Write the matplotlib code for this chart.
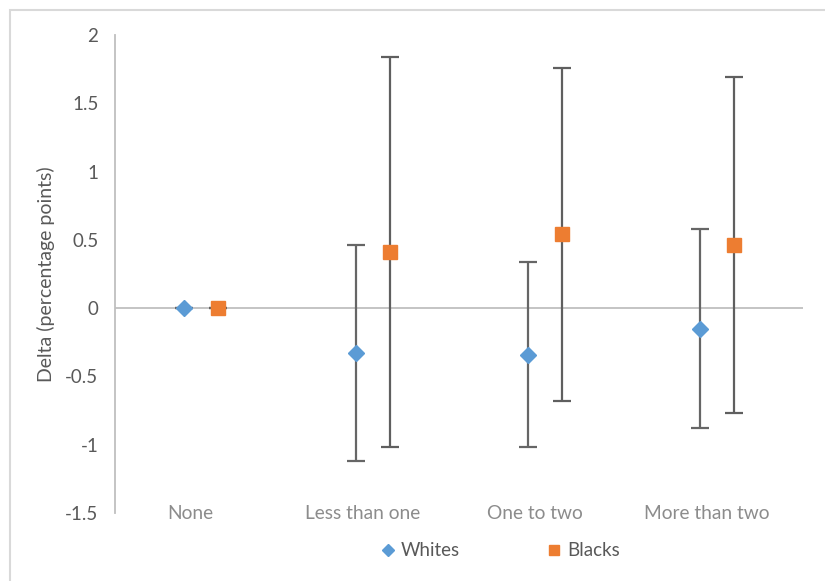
import matplotlib.pyplot as plt
from matplotlib.patches import Rectangle
from matplotlib.lines import Line2D
import numpy as np


categories = ['None', 'Less than one', 'One to two', 'More than two']

whites = [0.0, -0.33, -0.34, -0.15]
whites_err = [0.0, 0.79, 0.68, 0.73]

blacks = [0.0, 0.41, 0.54, 0.46]
blacks_err = [0.0, 1.43, 1.22, 1.23]

yticks = [-1.5, -1, -0.5, 0, 0.5, 1, 1.5, 2]
ytick_labels = ['-1.5', '-1', '-0.5', '0', '0.5', '1', '1.5', '2']

blue = '#5B9BD5'
orange = '#ED7D31'
bar_color = '#5F5F5F'
axis_gray = '#BFBFBF'
text_gray = '#595959'

plt.rcParams['font.family'] = ['Lato', 'DejaVu Sans']

fig = plt.figure(figsize=(8.25, 5.81), dpi=100)
ax = fig.add_axes([0.1394, 0.117, 0.9733 - 0.1394, 0.9398 - 0.117])

x = np.arange(len(categories))
xw = x - 0.1
xb = x + 0.1

# error bars first, markers on top
ax.errorbar(xw, whites, yerr=whites_err, fmt='none', ecolor='#666666',
            elinewidth=1.6, capsize=6.5, capthick=1.6, zorder=3)
ax.errorbar(xb, blacks, yerr=blacks_err, fmt='none', ecolor=bar_color,
            elinewidth=1.6, capsize=6.5, capthick=1.6, zorder=3)
ax.plot(xw, whites, linestyle='none', marker='D', markersize=8.5,
        color=blue, markeredgecolor=blue, zorder=4)
ax.plot(xb, blacks, linestyle='none', marker='s', markersize=10,
        color=orange, markeredgecolor=orange, zorder=4)

ax.axhline(0, color=axis_gray, linewidth=1.3, zorder=1)

ax.set_xlim(-0.5, 3.5)
ax.set_ylim(-1.5, 2)
ax.set_yticks(yticks)
ax.set_yticklabels(ytick_labels)
ax.set_xticks([])
ax.tick_params(axis='y', length=0, pad=12, labelsize=13.5, labelcolor=text_gray)

for s in ['top', 'right', 'bottom']:
    ax.spines[s].set_visible(False)
ax.spines['left'].set_color(axis_gray)
ax.spines['left'].set_linewidth(1.3)

# category labels sit level with the bottom of the value axis
for i, name in enumerate(categories):
    ax.text(i - 0.06, 0, name, transform=ax.get_xaxis_transform(),
            ha='center', va='center', fontsize=13.8, color='#8C8C8C')

ax.set_ylabel('Delta (percentage points)', fontsize=14, color=text_gray,
              labelpad=7)

handles = [
    Line2D([], [], linestyle='none', marker='D', markersize=6.5, color=blue),
    Line2D([], [], linestyle='none', marker='s', markersize=7.5, color=orange),
]
leg = fig.legend(handles, ['Whites', 'Blacks'], loc='center',
                 bbox_to_anchor=(0.606, 0.052), ncol=2, frameon=False,
                 fontsize=13.5, handlelength=0.8, handletextpad=0.3,
                 columnspacing=4.6)
for t in leg.get_texts():
    t.set_color(text_gray)

# light outer border of the chart area
fig.patches.append(Rectangle((10 / 825, -0.05), 1.2, 1 - 10 / 581 + 0.05,
                             transform=fig.transFigure, fill=False,
                             edgecolor='#D9D9D9', linewidth=1.5))

fig.savefig('out.png', dpi=100)
